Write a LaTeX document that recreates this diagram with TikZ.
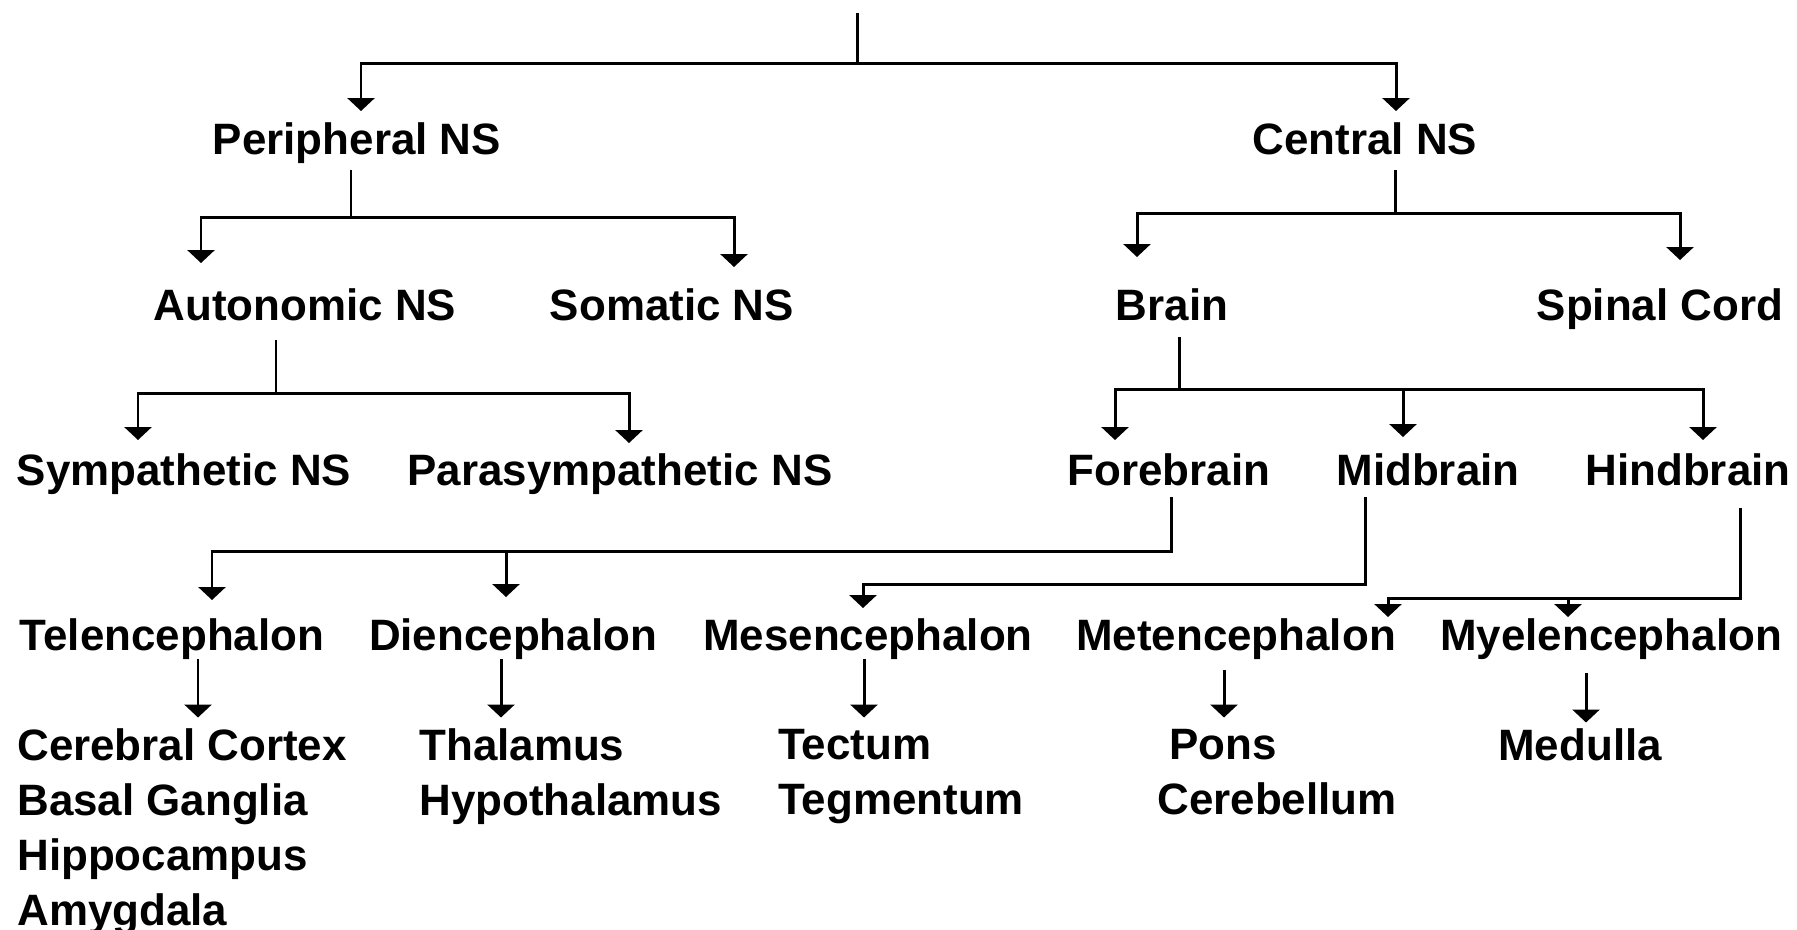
\documentclass[tikz,border=0pt]{standalone}
\usepackage{fontspec}
\setmainfont{Liberation Sans}
\usetikzlibrary{calc,arrows.meta}

\begin{document}
\begin{tikzpicture}[
    x=0.02cm, y=-0.02cm,
    txt/.style={inner sep=0pt,
        font=\fontsize{25}{31.3}\selectfont\bfseries},
    label/.style={txt, anchor=base,
        text height=18pt,
        text depth=5pt},
    list/.style={txt, anchor=north west, align=left},
    link/.style={line width=1.7pt},
    arr/.style={link, -{Triangle[width=0.54cm, length=0.26cm]}},
    ]

    \path[use as bounding box, fill=white] (0,0) rectangle (1797,929);

    \node [label] (ns) at (882,-12) {Nervous System (NS)};

    \node [label] (peripheral) at (357,155) {Peripheral NS};
    \node [label] (central) at (1365,155) {Central NS};

    \node [label] (autonomic) at (305,320) {Autonomic NS};
    \node [label] (somatic) at (672,320) {Somatic NS};
    \node [label] (brain) at (1172,320) {Brain};
    \node [label] (spinal) at (1660,320) {Spinal Cord};

    \node [label] (sympathetic) at (184,485) {Sympathetic NS};
    \node [label] (parasympathetic) at (620,485) {Parasympathetic NS};
    \node [label] (forebrain) at (1169,485) {Forebrain};
    \node [label] (midbrain) at (1428,485) {Midbrain};
    \node [label] (hindbrain) at (1688,485) {Hindbrain};

    \node [label] (telencephalon) at (172,650) {Telencephalon};
    \node [label] (diencephalon) at (513,650) {Diencephalon};
    \node [label] (mesencephalon) at (868,650) {Mesencephalon};
    \node [label] (metencephalon) at (1236,650) {Metencephalon};
    \node [label] (myelencephalon) at (1611,650) {Myelencephalon};

    \node [list] (cortex) at (17,728.5) {Cerebral Cortex\\Basal Ganglia\\Hippocampus\\Amygdala};
    \node [list] (thalamus) at (419,728.5) {Thalamus\\Hypothalamus};
    \node [list] (tectum) at (778,728.5) {Tectum\\Tegmentum};
    \node [list] (pons) at (1157,728.5) {\hspace*{6.8pt}Pons\\Cerebellum};
    \node [list] (medulla) at (1498,728.5) {Medulla};

    \draw[arr] ($(ns.south)+(-25,16)$) -- ++(0,50) -| ($(peripheral.north)+(4,-12)$);
    \draw[arr] ($(ns.south)+(-25,16)$) -- ++(0,50) -| ($(central.north)+(31,-12)$);

    \draw[arr] ($(peripheral.south)+(-6,6)$) -- ++(0,47) -| ($(autonomic.north)+(-104,-25)$);
    \draw[arr] ($(peripheral.south)+(-6,6)$) -- ++(0,47) -| ($(somatic.north)+(62,-21)$);

    \draw[arr] ($(central.south)+(30,6)$) -- ++(0,43) -| ($(brain.north)+(-35,-31)$);
    \draw[arr] ($(central.south)+(30,6)$) -- ++(0,43) -| ($(spinal.north)+(20,-28)$);

    \draw[arr] ($(autonomic.south)+(-29,11)$) -- ++(0,53) -| ($(sympathetic.north)+(-46,-13)$);
    \draw[arr] ($(autonomic.south)+(-29,11)$) -- ++(0,53) -| ($(parasympathetic.north)+(9,-10)$);

    \draw[arr] ($(brain.south)+(7,8)$) -- ++(0,52) -| ($(forebrain.north)+(-54,-13)$);
    \draw[arr] ($(brain.south)+(7,8)$) -- ++(0,52) -| ($(midbrain.north)+(-25,-16)$);
    \draw[arr] ($(brain.south)+(7,8)$) -- ++(0,52) -| ($(hindbrain.north)+(15,-13)$);

    \draw[arr] ($(forebrain.south)+(2,3)$) -- ++(0,54) -| ($(telencephalon.north)+(40,-18)$);
    \draw[arr] ($(forebrain.south)+(2,3)$) -- ++(0,54) -| ($(diencephalon.north)+(-7,-21)$);
    \draw[arr] ($(midbrain.south)+(-63,3)$) -- ++(0,87) -| ($(mesencephalon.north)+(-5,-10)$);
    \draw[arr] ($(hindbrain.south)+(52,14)$) -- ++(0,90) -| ($(myelencephalon.north)+(-43,-1)$);
    \draw[arr] ($(hindbrain.south)+(52,14)$) -- ++(0,90) -| ($(metencephalon.north)+(152,-1)$);

    \draw[arr] ($(telencephalon.south)+(26,0)$) -- ($(cortex.north west)+(181,-11)$);
    \draw[arr] ($(diencephalon.south)+(-12,0)$) -- ($(thalamus.north west)+(82,-11)$);
    \draw[arr] ($(mesencephalon.south)+(-4,0)$) -- ($(tectum.north west)+(86,-11)$);
    \draw[arr] ($(metencephalon.south)+(-12,11)$) -- ($(pons.north west)+(67,-11)$);
    \draw[arr] ($(myelencephalon.south)+(-25,14)$) -- ($(medulla.north west)+(88,-6)$);
\end{tikzpicture}
\end{document}
